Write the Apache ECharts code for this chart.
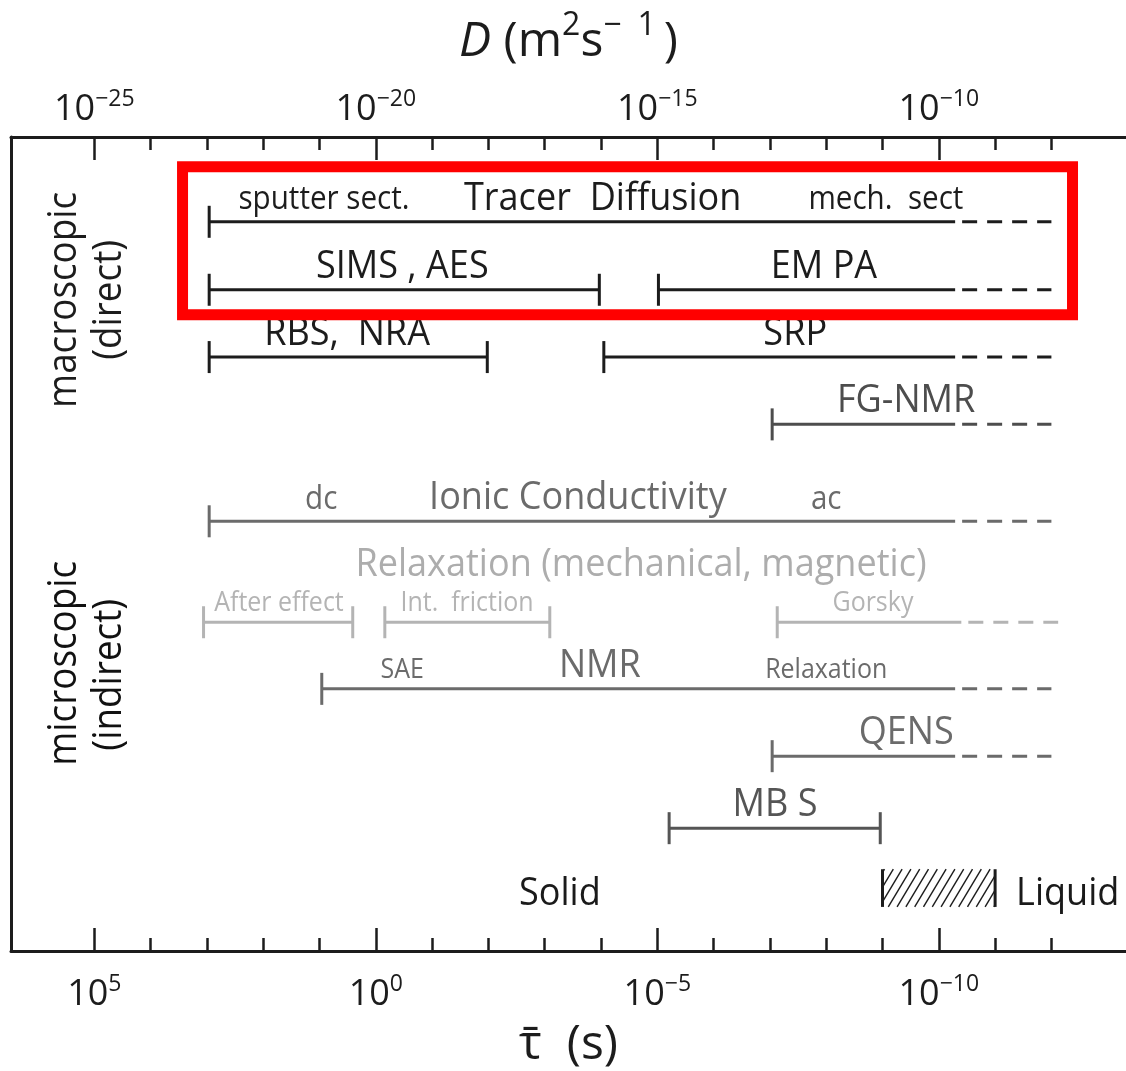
<!DOCTYPE html>
<html>
<head>
<meta charset="utf-8">
<script src="https://cdn.jsdelivr.net/npm/echarts@6/dist/echarts.min.js"></script>
<style>
html,body{margin:0;padding:0;background:#ffffff;}
#chart{width:1126px;height:1071px;}
</style>
</head>
<body>
<div id="chart"></div>
<script>
// ---------------- DATA ----------------
// Top axis: diffusion coefficient D (m^2 s^-1), decades (log10)
const dTickExp   = [-25, -20, -15, -10];
const dMinorExp  = [-24, -23, -22, -21, -19, -18, -17, -16, -14, -13, -12, -11, -9, -8];
// Bottom axis: mean residence time tau (s), decades (log10)
const tauTickExp  = [5, 0, -5, -10];
const tauMinorExp = [4, 3, 2, 1, -1, -2, -3, -4, -6, -7, -8, -9, -11, -12];

// Measuring techniques: accessible range in log10 D
const methodNames  = ['Tracer Diffusion', 'SIMS, AES', 'EMPA', 'RBS, NRA', 'SRP', 'FG-NMR',
                      'Ionic Conductivity', 'After effect', 'Int. friction', 'Gorsky',
                      'NMR', 'QENS', 'MBS'];
const methodRow    = [0, 1, 1, 2, 2, 3, 4, 5, 5, 5, 6, 7, 8];
const methodFrom   = [-22.96, -22.96, -14.98, -22.96, -15.95, -12.96, -22.96, -23.06, -19.84, -12.87, -20.96, -12.96, -14.79];
const methodTo     = [-9.71, -16.03, -9.71, -18.02, -9.71, -9.71, -9.71, -20.41, -16.91, -9.6, -9.71, -9.71, -11.04];
const methodOpenTo = [-8, null, -8, null, -8, -8, -8, null, null, -7.88, -8, -8, null];

// Text annotations: text, row, log10 D at the text centre, role
const labelText = ['sputter sect.', 'Tracer  Diffusion', 'mech.  sect',
                   'SIMS , AES', 'EM PA',
                   'RBS,  NRA', 'SRP',
                   'FG-NMR',
                   'dc', 'Ionic Conductivity', 'ac',
                   'Relaxation (mechanical, magnetic)',
                   'After effect', 'Int.  friction', 'Gorsky',
                   'SAE', 'NMR', 'Relaxation',
                   'QENS', 'MB S',
                   'Solid', 'Liquid'];
const labelRow  = [0, 0, 0, 1, 1, 2, 2, 3, 4, 4, 4, 5, 5, 5, 5, 6, 6, 6, 7, 8, 9, 9];
const labelAt   = [-20.92, -15.97, -10.94, -19.53, -12.04, -20.51, -12.55, -10.58,
                   -20.97, -16.41, -12.0, -15.29, -21.72, -18.38, -11.17,
                   -19.53, -16.02, -12.0, -10.58, -12.91, -16.73, -7.71];
const labelRole = ['variant', 'technique', 'variant', 'technique', 'technique', 'technique', 'technique',
                   'technique', 'variant', 'technique', 'variant', 'heading', 'detail', 'detail', 'detail',
                   'detail', 'technique', 'detail', 'technique', 'technique', 'phase', 'phase'];

// Solid / liquid transition band (log10 D)
const liquidBand = [-11.0, -9.0];

// Group titles
const groupText = ['macroscopic', '(direct)', 'microscopic', '(indirect)'];

// ---------------- LAYOUT / STYLE ----------------
const FONT = "'Open Sans', 'Noto Sans', sans-serif";
const INK = '#1c1c1c';
const X_MIN = -26.48, X_MAX = -6.675;            // visible log10 D window
const TAU_OF = e => -e - 20;                      // log10 tau for a log10 D
const Y_MAX = 12.095;                             // plot height in row pitches
const ROW_LEVEL = [1.26, 2.27, 3.27, 4.27, 5.71, 7.21, 8.2, 9.2, 10.27, 11.44];
const BAND_LEVEL = [10.88, 11.44];
const ROW_COLOR = ['#1c1c1c', '#1c1c1c', '#1c1c1c', '#4d4d4d', '#6b6b6b', '#b4b4b4',
                   '#6b6b6b', '#6b6b6b', '#555555', '#1a1a1a'];
const ROLE_FONT = {technique: 39, variant: 32, detail: 27, heading: 39, phase: 39};
const ROLE_GAP  = {technique: 8, variant: 9, detail: 8, heading: 42, phase: -2};
const SQUEEZE = 0.925;
const GROUP_POS = [[-25.52, 2.42], [-24.72, 2.42], [-25.52, 7.82], [-24.72, 7.99]];
const GROUP_COLOR = ['#1c1c1c', '#1c1c1c', '#111111', '#111111'];
const HIGHLIGHT = {from: -23.433, to: -7.625, rows: [0, 1], padTop: 55, padBottom: 25};

function powLabel(v) {
  const s = v < 0 ? '\u2212' + Math.abs(v) : String(v);
  return '{b|10}{s|' + s + '}';
}
const tickRich = {
  b: {fontFamily: FONT, fontSize: 36, color: INK, lineHeight: 40, verticalAlign: 'bottom'},
  s: {fontFamily: FONT, fontSize: 23, color: INK, lineHeight: 26, verticalAlign: 'top'}
};
const titleRich = {
  i: {fontFamily: FONT, fontSize: 48, fontStyle: 'italic', color: INK, lineHeight: 56, verticalAlign: 'bottom'},
  n: {fontFamily: FONT, fontSize: 48, color: INK, lineHeight: 56, verticalAlign: 'bottom'},
  p: {fontFamily: FONT, fontSize: 32, color: INK, lineHeight: 40, verticalAlign: 'top'},
  t: {fontFamily: FONT, fontSize: 48, color: INK, lineHeight: 56, verticalAlign: 'bottom'}
};

function renderRange(params, api) {
  const i = params.dataIndex;
  const row = methodRow[i];
  const color = ROW_COLOR[row];
  const y = api.coord([X_MIN, ROW_LEVEL[row]])[1];
  const x0 = api.coord([methodFrom[i], 0])[0];
  const x1 = api.coord([methodTo[i], 0])[0];
  const st = {stroke: color, lineWidth: 3, lineCap: 'butt'};
  const ch = [
    {type: 'line', shape: {x1: x0, y1: y, x2: x1, y2: y}, style: st},
    {type: 'line', shape: {x1: x0, y1: y - 16, x2: x0, y2: y + 16}, style: st}
  ];
  if (methodOpenTo[i] != null) {
    const x2 = api.coord([methodOpenTo[i], 0])[0];
    ch.push({type: 'line', shape: {x1: x1, y1: y, x2: x2, y2: y},
             style: {stroke: color, lineWidth: 3, lineDash: [15, 10], lineDashOffset: 18}});
  } else {
    ch.push({type: 'line', shape: {x1: x1, y1: y - 16, x2: x1, y2: y + 16}, style: st});
  }
  return {type: 'group', children: ch};
}

function renderLabel(params, api) {
  const i = params.dataIndex;
  const row = labelRow[i];
  const role = labelRole[i];
  const fs = ROLE_FONT[role];
  const p = api.coord([labelAt[i], ROW_LEVEL[row]]);
  const baseline = p[1] - ROLE_GAP[role];
  let color = ROW_COLOR[row];
  if (role === 'heading') color = '#adadad';
  return {
    type: 'text', x: p[0], y: baseline - 0.39 * fs, scaleX: SQUEEZE,
    style: {text: labelText[i], fontFamily: FONT, fontSize: fs, fill: color,
            align: 'center', verticalAlign: 'middle'}
  };
}

function renderAnnotations(params, api) {
  const ch = [];
  // highlight frame
  const hx0 = api.coord([HIGHLIGHT.from, 0])[0];
  const hx1 = api.coord([HIGHLIGHT.to, 0])[0];
  const hy0 = api.coord([X_MIN, ROW_LEVEL[HIGHLIGHT.rows[0]]])[1] - HIGHLIGHT.padTop;
  const hy1 = api.coord([X_MIN, ROW_LEVEL[HIGHLIGHT.rows[1]]])[1] + HIGHLIGHT.padBottom;
  ch.push({type: 'rect', shape: {x: hx0, y: hy0, width: hx1 - hx0, height: hy1 - hy0},
           style: {fill: 'none', stroke: '#ff0000', lineWidth: 11}});
  // liquid band with hatching
  const bl = api.coord([liquidBand[0], BAND_LEVEL[0]]);
  const br = api.coord([liquidBand[1], BAND_LEVEL[1]]);
  const xl = bl[0], xr = br[0], yt = bl[1], yb = br[1];
  const h = yb - yt, dx = 0.6 * h, sp = 8.8;
  for (let b = xl - dx + 2; b < xr; b += sp) {
    const s0 = Math.max(0, (xl - b) / dx), s1 = Math.min(1, (xr - b) / dx);
    if (s1 <= s0) continue;
    ch.push({type: 'line', shape: {x1: b + s0 * dx, y1: yb - s0 * h, x2: b + s1 * dx, y2: yb - s1 * h},
             style: {stroke: INK, lineWidth: 1.4}});
  }
  ch.push({type: 'line', shape: {x1: xl, y1: yt, x2: xl, y2: yb}, style: {stroke: INK, lineWidth: 3}});
  ch.push({type: 'line', shape: {x1: xr, y1: yt, x2: xr, y2: yb}, style: {stroke: INK, lineWidth: 3}});
  // group titles
  groupText.forEach((t, k) => {
    const p = api.coord(GROUP_POS[k]);
    ch.push({type: 'text', x: p[0], y: p[1], rotation: Math.PI / 2, scaleX: 0.92,
             style: {text: t, fontFamily: FONT, fontSize: 40, fill: GROUP_COLOR[k],
                     align: 'center', verticalAlign: 'middle'}});
  });
  return {type: 'group', children: ch};
}

const chart = echarts.init(document.getElementById('chart'));
const option = {
  animation: false,
  backgroundColor: '#ffffff',
  grid: {left: 11, right: 0, top: 137, bottom: 120, containLabel: false, outerBoundsMode: 'none'},
  xAxis: [
    {
      type: 'value', position: 'top', min: X_MIN, max: X_MAX,
      name: '{i|D}{n| (m}{p|2}{n|s}{p|\u2212\u20021}{n|\u2009)}', nameLocation: 'middle', nameGap: 71,
      nameTextStyle: {rich: titleRich},
      axisLine: {show: true, onZero: false, lineStyle: {color: INK, width: 3}},
      axisTick: {show: true, inside: true, length: 23, customValues: dTickExp, lineStyle: {color: INK, width: 2.5}},
      axisLabel: {show: true, margin: 9, customValues: dTickExp, formatter: powLabel, rich: tickRich},
      splitLine: {show: false}
    },
    {
      type: 'value', position: 'top', min: X_MIN, max: X_MAX,
      axisLine: {show: false, onZero: false},
      axisTick: {show: true, inside: true, length: 13, customValues: dMinorExp, lineStyle: {color: INK, width: 2.5}},
      axisLabel: {show: false}, splitLine: {show: false}
    },
    {
      type: 'value', position: 'bottom', inverse: true, min: TAU_OF(X_MAX), max: TAU_OF(X_MIN),
      name: '{t|\u03C4\u0304}{n|  (s)}', nameLocation: 'middle', nameGap: 62,
      nameTextStyle: {rich: titleRich},
      axisLine: {show: true, onZero: false, lineStyle: {color: INK, width: 3}},
      axisTick: {show: true, inside: true, length: 23, customValues: tauTickExp, lineStyle: {color: INK, width: 2.5}},
      axisLabel: {show: true, margin: 22, customValues: tauTickExp, formatter: powLabel, rich: tickRich},
      splitLine: {show: false}
    },
    {
      type: 'value', position: 'bottom', inverse: true, min: TAU_OF(X_MAX), max: TAU_OF(X_MIN),
      axisLine: {show: false, onZero: false},
      axisTick: {show: true, inside: true, length: 13, customValues: tauMinorExp, lineStyle: {color: INK, width: 2.5}},
      axisLabel: {show: false}, splitLine: {show: false}
    }
  ],
  yAxis: {
    type: 'value', inverse: true, min: 0, max: Y_MAX,
    axisLine: {show: true, onZero: false, lineStyle: {color: INK, width: 3}},
    axisTick: {show: false}, axisLabel: {show: false}, splitLine: {show: false}
  },
  series: [
    {
      type: 'custom', name: 'ranges', xAxisIndex: 0, yAxisIndex: 0, clip: false,
      data: methodNames.map((n, i) => ({name: n, value: [methodFrom[i], ROW_LEVEL[methodRow[i]], methodOpenTo[i] != null ? methodOpenTo[i] : methodTo[i]]})),
      encode: {x: [0, 2], y: 1},
      renderItem: renderRange
    },
    {
      type: 'custom', name: 'labels', xAxisIndex: 0, yAxisIndex: 0, clip: false,
      data: labelText.map((t, i) => [labelAt[i], ROW_LEVEL[labelRow[i]]]),
      encode: {x: 0, y: 1},
      renderItem: renderLabel
    },
    {
      type: 'custom', name: 'annotations', xAxisIndex: 0, yAxisIndex: 0, clip: false,
      data: [[liquidBand[0], BAND_LEVEL[0]]],
      encode: {x: 0, y: 1},
      renderItem: renderAnnotations
    }
  ]
};
chart.setOption(option);
</script>
</body>
</html>
